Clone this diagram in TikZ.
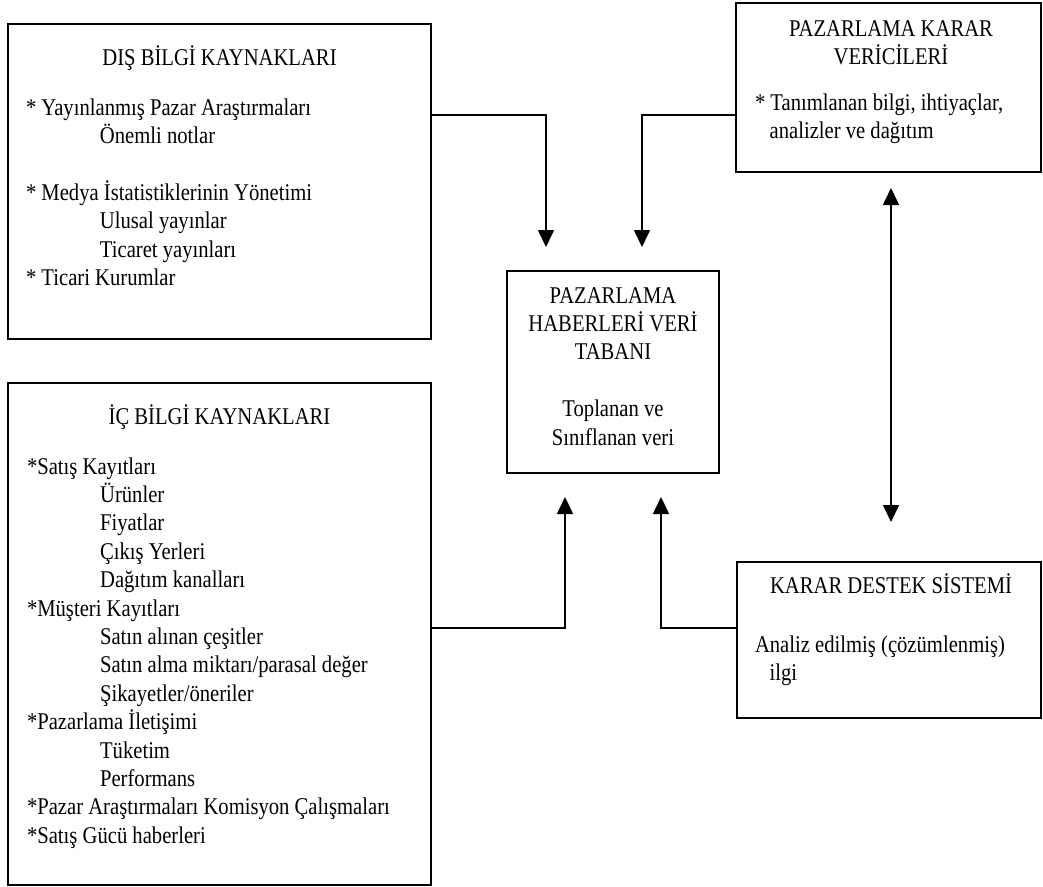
\documentclass[tikz,border=0pt]{standalone}
\usepackage{fontspec}
\setmainfont{Liberation Serif}
\usetikzlibrary{arrows.meta}
% slightly condensed text, as set in the original document
\newcommand{\narrowtxt}[1]{\scalebox{0.86}[1]{#1}}
\begin{document}
\begin{tikzpicture}[x=1bp,y=-1bp,
  box/.style={draw, line width=1.6bp, rectangle, inner sep=0pt, outer sep=0pt, anchor=north west},
  txt/.style={inner sep=0pt, outer sep=0pt, font=\fontsize{24bp}{28.4bp}\selectfont},
  conn/.style={line width=1.6bp, -{Triangle[width=16bp,length=17bp]}},
  dconn/.style={line width=1.6bp, {Triangle[width=16bp,length=17bp]}-{Triangle[width=16bp,length=17bp]}}]
\useasboundingbox (0,0) rectangle (1043,887);

% boxes
\node[box, minimum width=423bp, minimum height=315bp] (b1) at (8,24) {};
\node[box, minimum width=423bp, minimum height=502bp] (b2) at (8,383) {};
\node[box, minimum width=212bp, minimum height=202bp] (b3) at (507,271) {};
\node[box, minimum width=305bp, minimum height=169bp] (b4) at (736,3) {};
\node[box, minimum width=304bp, minimum height=156bp] (b5) at (737,562) {};

% external sources
\node[txt, anchor=base] (t1) at (219.5,65) {\narrowtxt{DIŞ BİLGİ KAYNAKLARI}};
\node[txt, anchor=base west] (l1) at (26,115) {\narrowtxt{\begin{tabular}[t]{@{}l@{}}
{*} Yayınlanmış Pazar Araştırmaları\\
\hspace*{86bp}Önemli notlar\\
{}\\
{*} Medya İstatistiklerinin Yönetimi\\
\hspace*{86bp}Ulusal yayınlar\\
\hspace*{86bp}Ticaret yayınları\\
{*} Ticari Kurumlar
\end{tabular}}};

% internal sources
\node[txt, anchor=base] (t2) at (219.5,424) {\narrowtxt{İÇ BİLGİ KAYNAKLARI}};
\node[txt, anchor=base west] (l2) at (27,474) {\narrowtxt{\begin{tabular}[t]{@{}l@{}}
{*}Satış Kayıtları\\
\hspace*{85bp}Ürünler\\
\hspace*{85bp}Fiyatlar\\
\hspace*{85bp}Çıkış Yerleri\\
\hspace*{85bp}Dağıtım kanalları\\
{*}Müşteri Kayıtları\\
\hspace*{85bp}Satın alınan çeşitler\\
\hspace*{85bp}Satın alma miktarı/parasal değer\\
\hspace*{85bp}Şikayetler/öneriler\\
{*}Pazarlama İletişimi\\
\hspace*{85bp}Tüketim\\
\hspace*{85bp}Performans\\
{*}Pazar Araştırmaları Komisyon Çalışmaları\\
{*}Satış Gücü haberleri
\end{tabular}}};

% database
\node[txt, anchor=base] (l3) at (613,303) {\narrowtxt{\begin{tabular}[t]{@{}c@{}}
PAZARLAMA\\
HABERLERİ VERİ\\
TABANI\\
{}\\
Toplanan ve\\
Sınıflanan veri
\end{tabular}}};

% decision makers
\node[txt, anchor=base] (t4) at (891,36.5) {\narrowtxt{\begin{tabular}[t]{@{}c@{}}
PAZARLAMA KARAR\\
VERİCİLERİ
\end{tabular}}};
\node[txt, anchor=base west] (l4) at (755,110.5) {\narrowtxt{\begin{tabular}[t]{@{}l@{}}
{*} Tanımlanan bilgi, ihtiyaçlar,\\
\hspace*{17bp}analizler ve dağıtım
\end{tabular}}};

% decision support
\node[txt, anchor=base] (t5) at (891,593) {\narrowtxt{KARAR DESTEK SİSTEMİ}};
\node[txt, anchor=base west] (l5) at (755,652) {\narrowtxt{\begin{tabular}[t]{@{}l@{}}
Analiz edilmiş (çözümlenmiş)\\
\hspace*{17bp}ilgi
\end{tabular}}};

% connector levels and free ends
\coordinate (yt) at (0,115);
\coordinate (yb) at (0,628);
\coordinate (a1) at (546,247);
\coordinate (a2) at (642,247);
\coordinate (a3) at (565,497);
\coordinate (a4) at (661,497);
\coordinate (d1) at (891,188);
\coordinate (d2) at (891,522);

\draw[conn] (b1.east |- yt) -| (a1);
\draw[conn] (b4.west |- yt) -| (a2);
\draw[conn] (b2.east |- yb) -| (a3);
\draw[conn] (b5.west |- yb) -| (a4);
\draw[dconn] (d1) -- (d2);
\end{tikzpicture}
\end{document}
